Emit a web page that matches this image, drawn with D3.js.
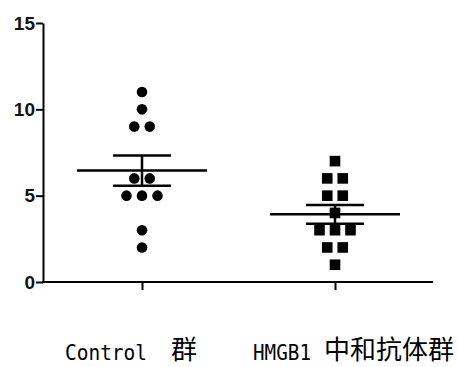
<!DOCTYPE html>
<html>
<head>
<meta charset="utf-8">
<script src="https://cdn.jsdelivr.net/npm/d3@7"></script>
<style>
  body { margin: 0; background: #fff; }
</style>
</head>
<body>
<svg id="svg-main" width="458" height="367"></svg>
<script>
// chart values
var groups = ["Control", "HMGB1"];
var controlValues = [11, 10, 9, 9, 6, 6, 5, 5, 5, 3, 2];
var hmgbValues = [7, 6, 6, 5, 5, 4, 3, 3, 3, 2, 2, 1];
var yTicks = [0, 5, 10, 15];
// label pieces: [latin part, cjk part]
var labelParts = [["Control", "群"], ["HMGB1", "中和抗体群"]];

var series = [controlValues, hmgbValues];

var svg = d3.select("#svg-main");

var y = d3.scaleLinear().domain([0, 15]).range([282, 23]);
var x = d3.scalePoint().domain(groups).range([142, 335]);

// y axis
var yAxis = d3.axisLeft(y).tickValues(yTicks).tickSize(7).tickPadding(1).tickSizeOuter(0);
var gy = svg.append("g")
  .attr("transform", "translate(43,0)")
  .call(yAxis);
gy.select(".domain").attr("stroke", "#000").attr("stroke-width", 2);
gy.selectAll(".tick line").attr("stroke", "#000").attr("stroke-width", 2);
gy.selectAll(".tick text")
  .attr("fill", "#111")
  .attr("font-family", "Liberation Sans, Arial, sans-serif")
  .attr("font-weight", "bold")
  .style("font-size", "19px");

// x axis
var xAxis = d3.axisBottom(x).tickSize(8).tickFormat("").tickSizeOuter(0);
var gx = svg.append("g")
  .attr("transform", "translate(0,282)")
  .call(xAxis);
gx.select(".domain").attr("d", "M42,0H433").attr("stroke", "#000").attr("stroke-width", 2);
gx.selectAll(".tick line").attr("stroke", "#000").attr("stroke-width", 2);

// spread equal values side by side
function spread(values) {
  var counts = d3.rollup(values, function(v) { return v.length; }, function(d) { return d; });
  var seen = new Map();
  return values.map(function(v) {
    var n = counts.get(v);
    var i = seen.get(v) || 0;
    seen.set(v, i + 1);
    return { value: v, off: (i - (n - 1) / 2) * 15.5 };
  });
}

series.forEach(function(vals, gi) {
  var cx = x(groups[gi]);
  var pts = spread(vals);
  var mean = d3.mean(vals);
  var sem = d3.deviation(vals) / Math.sqrt(vals.length);

  if (gi === 0) {
    svg.append("g").selectAll("circle")
      .data(pts).enter().append("circle")
      .attr("cx", function(d) { return cx + d.off; })
      .attr("cy", function(d) { return y(d.value); })
      .attr("r", 5.3)
      .attr("fill", "#000");
  } else {
    svg.append("g").selectAll("rect")
      .data(pts).enter().append("rect")
      .attr("x", function(d) { return cx + d.off - 5.3; })
      .attr("y", function(d) { return y(d.value) - 5.3; })
      .attr("width", 10.6)
      .attr("height", 10.6)
      .attr("fill", "#000");
  }

  var g = svg.append("g").attr("stroke", "#000").attr("stroke-width", 2.5).attr("fill", "none");
  g.append("line")
    .attr("x1", cx - 65).attr("x2", cx + 65)
    .attr("y1", y(mean)).attr("y2", y(mean));
  g.append("line")
    .attr("x1", cx).attr("x2", cx)
    .attr("y1", y(mean + sem)).attr("y2", y(mean - sem));
  [mean + sem, mean - sem].forEach(function(v) {
    g.append("line")
      .attr("x1", cx - 29).attr("x2", cx + 29)
      .attr("y1", y(v)).attr("y2", y(v));
  });
});

// category labels
var labelShift = [-77, -82];
var cjkGap = [22, 11];
labelParts.forEach(function(p, i) {
  var x0 = x(groups[i]) + labelShift[i];
  var w = p[0].length * 12;
  svg.append("text")
    .attr("x", x0)
    .attr("y", 360)
    .attr("fill", "#000")
    .attr("font-family", "DejaVu Sans Mono, monospace")
    .attr("textLength", w - 2)
    .attr("lengthAdjust", "spacingAndGlyphs")
    .style("font-size", "21px")
    .text(p[0]);
  svg.append("text")
    .attr("x", x0 + w + cjkGap[i])
    .attr("y", 359)
    .attr("fill", "#000")
    .attr("font-family", "Noto Sans CJK SC, sans-serif")
    .style("font-size", "26px")
    .text(p[1]);
});
</script>
</body>
</html>
